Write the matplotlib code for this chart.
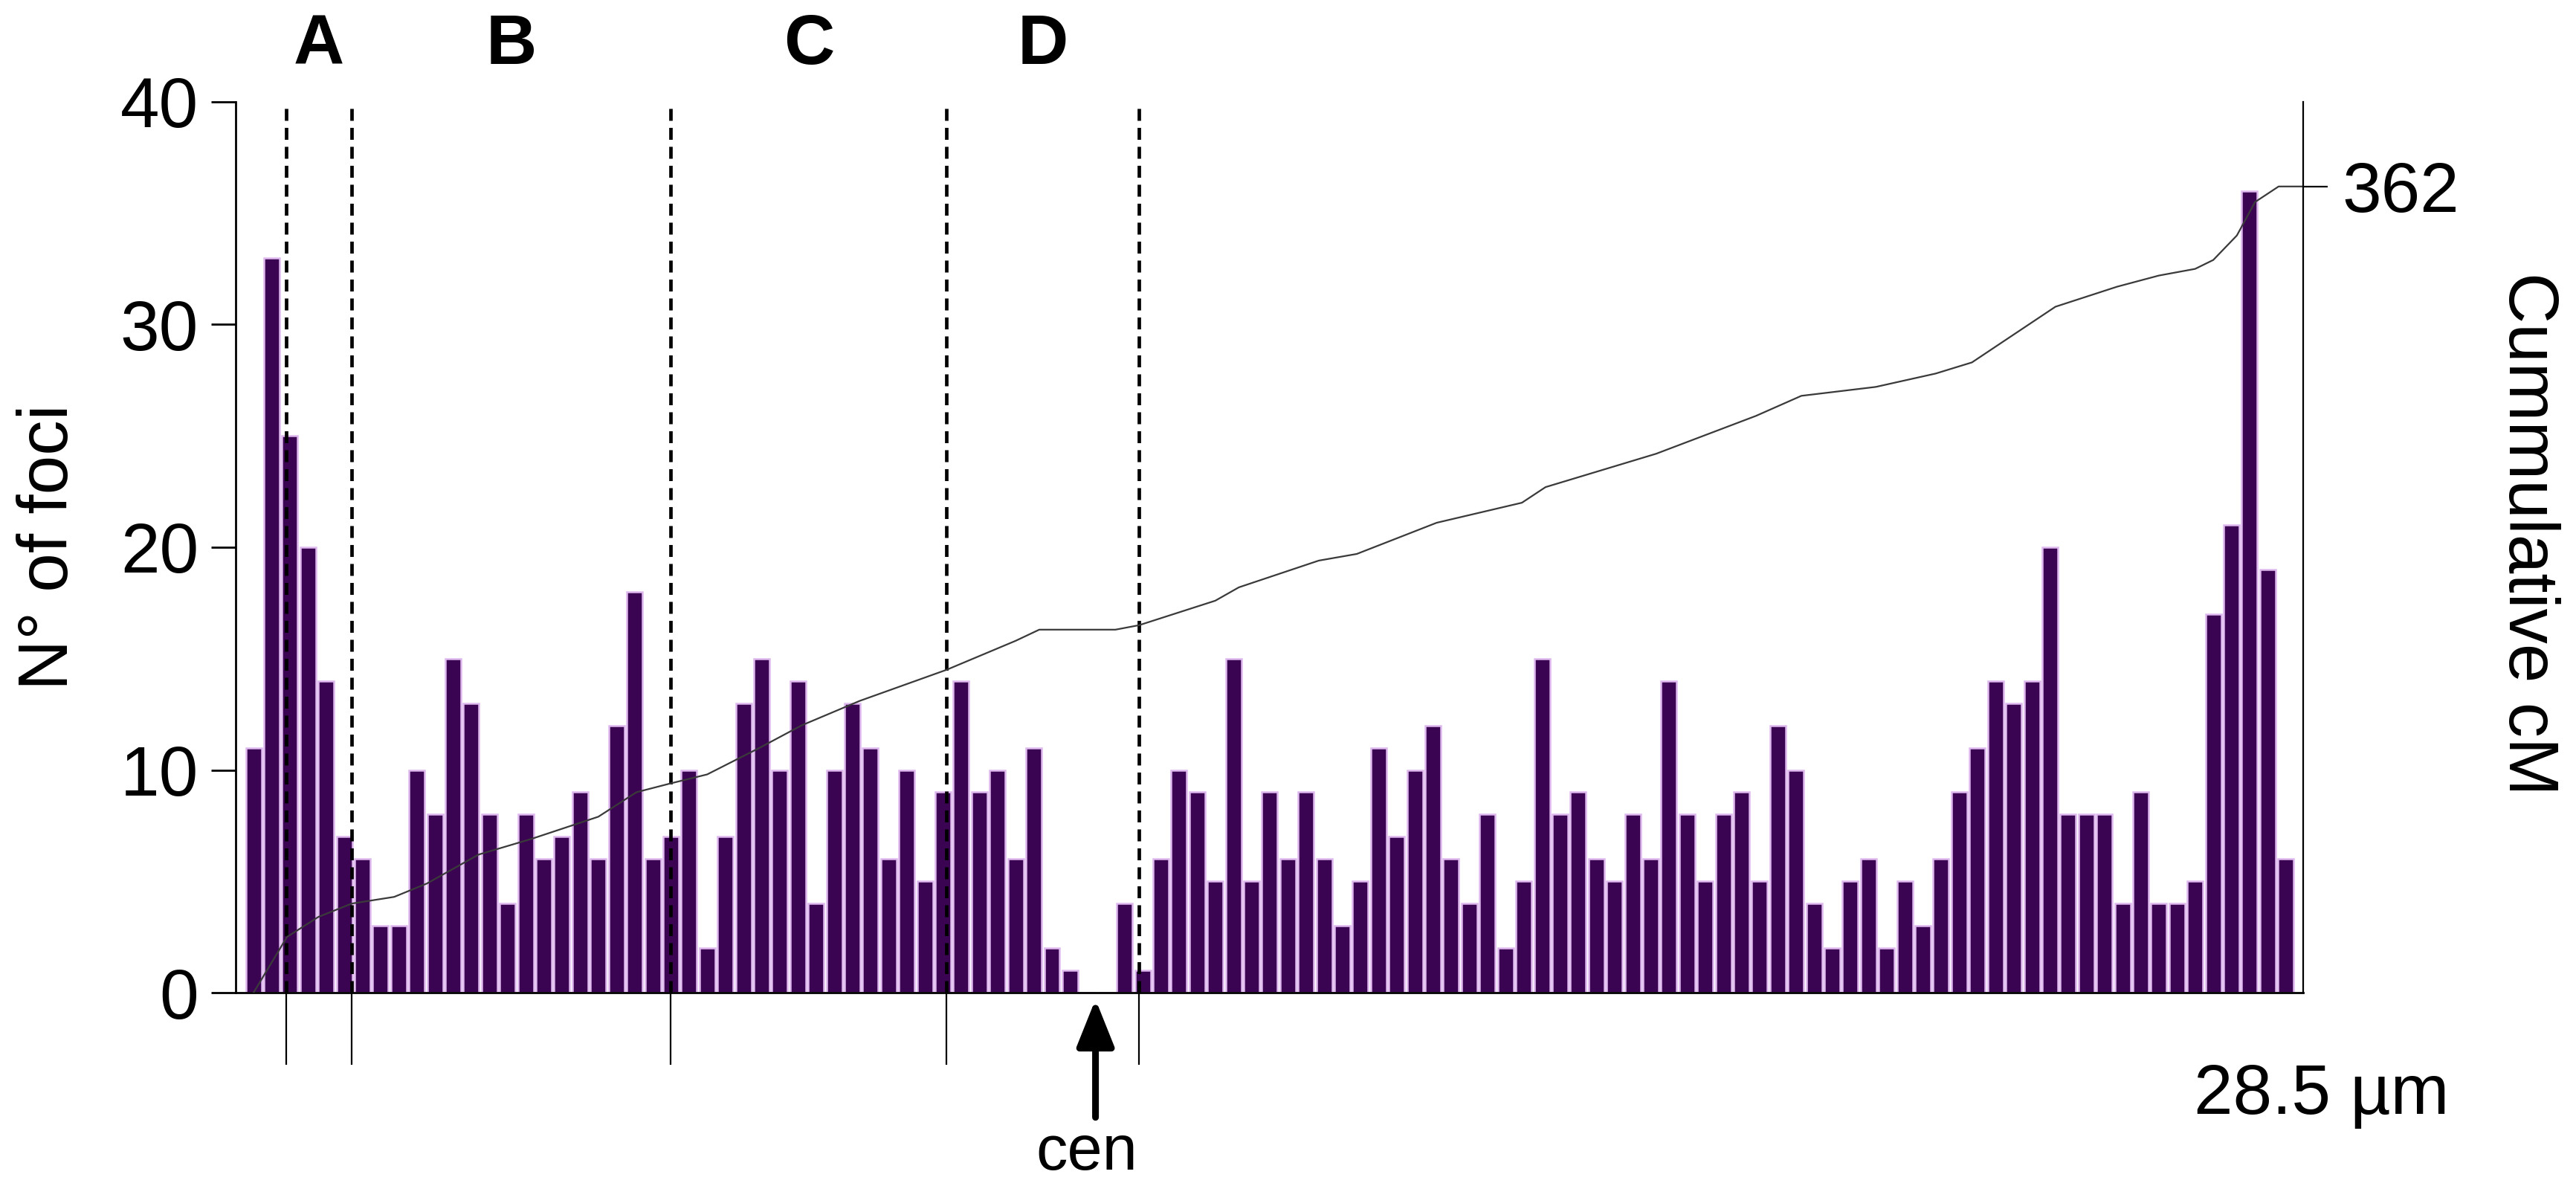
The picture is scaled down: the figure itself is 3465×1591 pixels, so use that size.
import numpy as np
import matplotlib
matplotlib.use('Agg')
import matplotlib.pyplot as plt
from matplotlib.patches import ArrowStyle

plt.rcParams['font.family'] = ['Liberation Sans', 'DejaVu Sans']

# number of foci per interval along the SC (113 intervals)
foci = [11, 33, 25, 20, 14, 7, 6, 3, 3, 10, 8, 15, 13, 8, 4, 8, 6, 7, 9, 6,
        12, 18, 6, 7, 10, 2, 7, 13, 15, 10, 14, 4, 10, 13, 11, 6, 10, 5, 9, 14,
        9, 10, 6, 11, 2, 1, 0, 0, 4, 1, 6, 10, 9, 5, 15, 5, 9, 6, 9, 6,
        3, 5, 11, 7, 10, 12, 6, 4, 8, 2, 5, 15, 8, 9, 6, 5, 8, 6, 14, 8,
        5, 8, 9, 5, 12, 10, 4, 2, 5, 6, 2, 5, 3, 6, 9, 11, 14, 13, 14, 20,
        8, 8, 8, 4, 9, 4, 4, 5, 17, 21, 36, 19, 6]

# cumulative cM curve (x in interval units)
cum_x = [0.0, 1.84, 3.57, 5.41, 7.75, 9.55, 12.4, 15.3, 19.0, 21.1, 23.0, 25.0,
         27.9, 30.2, 33.4, 38.2, 42.0, 43.3, 47.5, 48.8, 53.0, 54.3, 58.7, 60.8,
         65.2, 69.9, 71.2, 77.3, 82.8, 85.3, 89.4, 92.7, 94.7, 99.3, 102.7, 105.0,
         107.0, 108.0, 109.3, 110.3, 111.6, 112.9]
cum_cm = [0, 25, 34, 40, 43, 49, 62, 69, 79, 90, 94, 98,
          110, 120, 131, 145, 158, 163, 163, 165, 176, 182, 194, 197,
          211, 220, 227, 242, 259, 268, 272, 278, 283, 308, 317, 322,
          325, 329, 340, 355, 362, 362]

# region boundaries and labels
bounds = [1.8, 5.4, 23.0, 38.2, 48.8]
regions = ['A', 'B', 'C', 'D']
cen_pos = 46.4
total_cm = 362
length_label = '28.5 µm'

fs = 68
bar_col = '#3a0452'
edge_col = '#dfb8ee'

fig = plt.figure(figsize=(34.66, 15.91), dpi=100)
ax = fig.add_axes([0.0915, 0.1609, 0.8023, 0.753])

x = np.arange(len(foci))
ax.bar(x, foci, width=0.86, color=bar_col, edgecolor=edge_col, linewidth=1.8, zorder=1)
ax.vlines(bounds, 0, 40, colors='k', linestyles=(0, (3.4, 2.0)), lw=3.4, zorder=2)

ax.set_xlim(-0.98, 112.95)
ax.set_ylim(0, 40)
ax.set_yticks([0, 10, 20, 30, 40])
ax.set_xticks(bounds)
ax.set_xticklabels([])
ax.tick_params(axis='y', direction='out', length=24, width=2, pad=12, labelsize=fs)
ax.tick_params(axis='x', direction='out', length=70, width=1.6)
for s in ['top', 'right']:
    ax.spines[s].set_visible(False)
ax.spines['left'].set_linewidth(2)
ax.spines['bottom'].set_linewidth(2)

# region letters
for i, lab in enumerate(regions):
    mid = (bounds[i] + bounds[i + 1]) / 2
    ax.text(mid, 1.0626, lab, transform=ax.get_xaxis_transform(), ha='center', va='center',
            fontsize=fs, fontweight='bold')

# centromere arrow
ax.annotate('', xy=(cen_pos, -0.3), xytext=(cen_pos, -5.6), annotation_clip=False,
            arrowprops=dict(arrowstyle=ArrowStyle('-|>', head_length=0.55, head_width=0.22),
                            mutation_scale=70, lw=6.5, color='k', shrinkA=0, shrinkB=0))
ax.text(cen_pos - 0.5, -7.95, 'cen', ha='center', va='baseline', fontsize=61, clip_on=False)

# cumulative cM on right axis
ax2 = ax.twinx()
ax2.plot(cum_x, cum_cm, color='#3a3a3a', lw=1.6)
ax2.set_ylim(0, 400)
ax2.set_yticks([total_cm])
ax2.tick_params(axis='y', direction='out', length=24, width=1.6, pad=14, labelsize=fs)
for s in ['top', 'left', 'bottom']:
    ax2.spines[s].set_visible(False)
ax2.spines['right'].set_linewidth(1.6)

fig.text(67 / 3466, 1 - 736 / 1591, 'N° of foci', rotation=90, ha='center', va='center', fontsize=fs)
fig.text(3400 / 3466, 1 - 718 / 1591, 'Cummulative cM', rotation=270, ha='center', va='center', fontsize=fs)
fig.text(2951 / 3466, (1591 - 1498) / 1591, length_label, ha='left', va='baseline', fontsize=fs)

fig.savefig('out.png', dpi=100)
